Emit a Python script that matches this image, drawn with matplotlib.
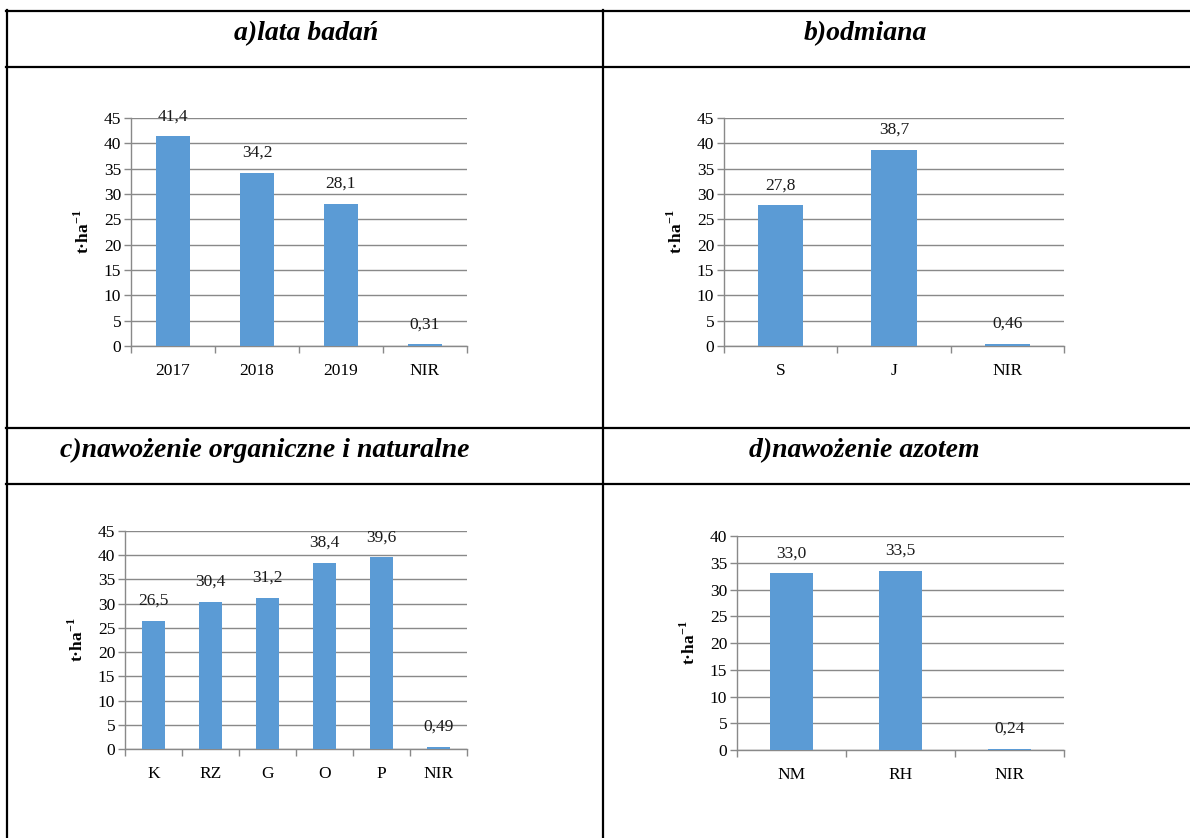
import matplotlib
matplotlib.use('Agg')
import matplotlib.pyplot as plt
from matplotlib.lines import Line2D

# data
lata_cat = ['2017', '2018', '2019', 'NIR']
lata_val = [41.4, 34.2, 28.1, 0.31]
lata_lab = ['41,4', '34,2', '28,1', '0,31']

odmiana_cat = ['S', 'J', 'NIR']
odmiana_val = [27.8, 38.7, 0.46]
odmiana_lab = ['27,8', '38,7', '0,46']

organ_cat = ['K', 'RZ', 'G', 'O', 'P', 'NIR']
organ_val = [26.5, 30.4, 31.2, 38.4, 39.6, 0.49]
organ_lab = ['26,5', '30,4', '31,2', '38,4', '39,6', '0,49']

azot_cat = ['NM', 'RH', 'NIR']
azot_val = [33.0, 33.5, 0.24]
azot_lab = ['33,0', '33,5', '0,24']

titles = ['a)lata badań', 'b)odmiana', 'c)nawożenie organiczne i naturalne', 'd)nawożenie azotem']

plt.rcParams['font.family'] = ['Liberation Serif', 'DejaVu Serif']
plt.rcParams['mathtext.fontset'] = 'custom'
plt.rcParams['mathtext.rm'] = 'Liberation Serif'
plt.rcParams['mathtext.bf'] = 'Liberation Serif:bold'

W, H = 1190, 838
fig = plt.figure(figsize=(W / 100, H / 100), dpi=100)

# background axes in pixel coords for the table
bg = fig.add_axes([0, 0, 1, 1])
bg.set_xlim(0, W)
bg.set_ylim(H, 0)
bg.axis('off')

lw = 1.6
for y in [11, 67, 428, 484]:
    bg.add_line(Line2D([6, W], [y, y], color='black', lw=lw))
for x in [7, 603]:
    bg.add_line(Line2D([x, x], [10, H], color='black', lw=lw))

title_pos = [(306, 40), (865, 40), (265, 457), (864, 457)]
for t, (x, y) in zip(titles, title_pos):
    bg.text(x, y, t, ha='center', va='baseline', fontsize=20,
            fontweight='bold', fontstyle='italic')

BAR = '#5B9BD5'
GRID = '#898989'


def panel(box, cats, vals, labs, ymax):
    x0, x1, ytop, ybot = box
    ax = fig.add_axes([x0 / W, 1 - ybot / H, (x1 - x0) / W, (ybot - ytop) / H])
    n = len(cats)
    pos = list(range(n))
    ax.bar(pos, vals, width=0.4, color=BAR, zorder=3)
    for p, v, l in zip(pos, vals, labs):
        ax.annotate(l, (p, v), xytext=(0, 11.5), textcoords='offset points',
                    ha='center', va='baseline', fontsize=12.5, color='#1a1a1a')
    ax.set_xlim(-0.5, n - 0.5)
    ax.set_ylim(0, ymax)
    ax.set_yticks(range(0, ymax + 1, 5))
    ax.yaxis.grid(True, color=GRID, lw=1.0)
    ax.set_axisbelow(True)
    ax.set_xticks(pos)
    ax.set_xticklabels(cats)
    ax.set_xticks([p - 0.5 for p in range(n + 1)], minor=True)
    ax.tick_params(axis='x', which='major', length=0, pad=12, labelsize=12.5)
    ax.tick_params(axis='x', which='minor', length=5, color=GRID, width=1.0)
    ax.tick_params(axis='y', length=5, color=GRID, width=1.0, pad=2, labelsize=12.5)
    for s in ['top', 'right']:
        ax.spines[s].set_visible(False)
    for s in ['left', 'bottom']:
        ax.spines[s].set_color(GRID)
        ax.spines[s].set_linewidth(1.0)
    ax.set_ylabel(r't·ha$^{\mathbf{-1}}$', fontweight='bold', fontsize=12.5, labelpad=8)
    return ax


panel((131, 467, 118, 346), lata_cat, lata_val, lata_lab, 45)
panel((724, 1064, 118, 346), odmiana_cat, odmiana_val, odmiana_lab, 45)
panel((125, 467, 531, 749), organ_cat, organ_val, organ_lab, 45)
panel((737, 1064, 536, 750), azot_cat, azot_val, azot_lab, 40)

fig.savefig('out.png', dpi=100)
